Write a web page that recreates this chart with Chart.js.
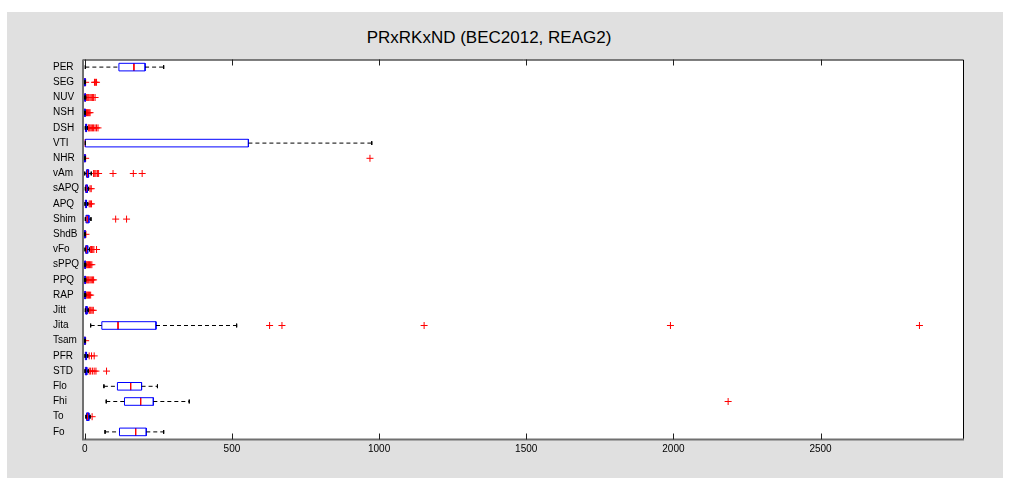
<!DOCTYPE html>
<html lang="en">
<head>
    <meta charset="UTF-8">
    <title>PRxRKxND boxplot</title>
    <script src="https://cdn.jsdelivr.net/npm/chart.js"></script>
    <style>
        body {
            margin: 0;
            background-color: #ffffff;
        }
        .panel {
            position: absolute;
            left: 7px;
            top: 12px;
            width: 996px;
            height: 466px;
            background-color: #e0e0e0;
        }
        .title {
            position: absolute;
            left: 0;
            top: 16px;
            width: 964px;
            text-align: center;
            font-family: 'Liberation Sans', Arial, sans-serif;
            font-size: 17px;
            color: #000000;
        }
        .wrap {
            position: absolute;
            left: 0;
            top: 0;
            width: 964px;
            height: 450px;
        }
    </style>
</head>
<body>
    <div class="panel">
        <div class="title">PRxRKxND (BEC2012, REAG2)</div>
        <div class="wrap"><canvas id="boxChart"></canvas></div>
    </div>

    <script>
        // groups, top to bottom
        const categories = ['PER','SEG','NUV','NSH','DSH','VTI','NHR','vAm','sAPQ','APQ','Shim','ShdB','vFo','sPPQ','PPQ','RAP','Jitt','Jita','Tsam','PFR','STD','Flo','Fhi','To','Fo'];
        const whiskerLow  = [2, 0, 0, 0, 2, 2, 0, 0, 2, 1, 2, 0, 1, 0, 0, 0, 2, 20, 0, 1, 1, 65, 73, 4, 69];
        const quart1      = [116, 0, 0, 0, 3, 2, 0, 6, 3, 2, 4, 0, 3, 0, 0, 0, 3, 58, 0, 2, 2, 111, 135, 6, 118];
        const medians     = [167, 0.5, 1, 0.5, 4, 2, 0.5, 9, 5, 4, 8, 0.5, 5, 1, 1, 1, 5, 113, 0.5, 4, 4, 156, 190, 9, 173];
        const quart3      = [205, 1, 2, 1, 6, 556, 1, 13, 9, 6, 14, 1, 10, 2, 2, 2, 8, 242, 1, 6, 7, 193, 233, 14, 209];
        const whiskerHigh = [268, 2, 3, 2, 9, 975, 2, 22, 13, 10, 21, 2, 16, 3, 3, 3, 12, 516, 2, 10, 12, 247, 355, 18, 268];
        const outliers = [
            [],
            [3, 33, 36, 40],
            [5, 8, 11, 14, 18, 22, 26, 30, 35],
            [3, 6, 9, 12, 15, 18],
            [12, 15, 18, 22, 26, 30, 35, 40, 45],
            [],
            [3, 969],
            [30, 34, 38, 43, 47, 96, 165, 195],
            [18, 22],
            [15, 19, 23],
            [105, 142],
            [4],
            [19, 23, 27, 31, 40],
            [4, 7, 10, 13, 16, 20, 24],
            [5, 8, 11, 14, 18, 22, 26, 30],
            [4, 7, 10, 13, 16, 20],
            [15, 18, 21, 25, 29],
            [628, 670, 1153, 1990, 2836],
            [3],
            [15, 23, 32],
            [15, 20, 26, 32, 38, 74],
            [],
            [2186],
            [25],
            []
        ];
        const xTicks = [0, 500, 1000, 1500, 2000, 2500];

        const half = 0.25;   // half box height (group units)
        const cap = 0.12;    // half whisker cap height

        function seg(points, color, dash) {
            return {
                data: points,
                showLine: true,
                borderColor: color,
                borderWidth: 1,
                borderDash: dash || [],
                pointRadius: 0,
                fill: false
            };
        }

        let datasets = [];
        categories.forEach((c, i) => {
            let y = i + 1;
            let lo = whiskerLow[i], a = quart1[i], m = medians[i], b = quart3[i], hi = whiskerHigh[i];
            datasets.push(seg([{x: lo, y: y}, {x: a, y: y}], '#000000', [4, 3]));
            datasets.push(seg([{x: b, y: y}, {x: hi, y: y}], '#000000', [4, 3]));
            datasets.push(seg([{x: lo, y: y - cap}, {x: lo, y: y + cap}], '#000000'));
            datasets.push(seg([{x: hi, y: y - cap}, {x: hi, y: y + cap}], '#000000'));
            datasets.push(seg([
                {x: a, y: y - half}, {x: b, y: y - half}, {x: b, y: y + half},
                {x: a, y: y + half}, {x: a, y: y - half}
            ], '#0000ff'));
            datasets.push(seg([{x: m, y: y - half}, {x: m, y: y + half}], '#ff0000'));
            datasets.push({
                data: outliers[i].map(v => ({x: v, y: y})),
                showLine: false,
                pointStyle: 'cross',
                pointRadius: 3.5,
                borderColor: '#ff0000',
                borderWidth: 1
            });
        });

        // white plot area, frame and inside ticks like the original figure
        const frame = {
            id: 'frame',
            beforeDraw(chart) {
                const {ctx, chartArea: ca} = chart;
                ctx.save();
                ctx.fillStyle = '#ffffff';
                ctx.fillRect(ca.left, ca.top, ca.right - ca.left, ca.bottom - ca.top);
                ctx.restore();
            },
            afterDraw(chart) {
                const {ctx, chartArea: ca} = chart;
                const xs = chart.scales.x;
                ctx.save();
                ctx.lineWidth = 1;
                ctx.strokeStyle = '#000000';
                ctx.beginPath();
                ctx.moveTo(ca.left, ca.top + 0.5);
                ctx.lineTo(ca.right + 0.5, ca.top + 0.5);
                ctx.lineTo(ca.right + 0.5, ca.bottom);
                ctx.stroke();
                ctx.strokeStyle = '#707070';
                ctx.lineWidth = 2;
                ctx.beginPath();
                ctx.moveTo(ca.left, ca.top);
                ctx.lineTo(ca.left, ca.bottom);
                ctx.lineTo(ca.right + 1, ca.bottom);
                ctx.stroke();
                ctx.lineWidth = 1;
                ctx.strokeStyle = '#202020';
                xTicks.forEach(v => {
                    let px = Math.round(xs.getPixelForValue(v)) + 0.5;
                    ctx.beginPath();
                    ctx.moveTo(px, ca.bottom);
                    ctx.lineTo(px, ca.bottom - 6);
                    ctx.moveTo(px, ca.top);
                    ctx.lineTo(px, ca.top + 6);
                    ctx.stroke();
                });
                ctx.restore();
            }
        };

        new Chart(document.getElementById('boxChart'), {
            type: 'scatter',
            data: { datasets: datasets },
            plugins: [frame],
            options: {
                responsive: true,
                maintainAspectRatio: false,
                animation: false,
                events: [],
                layout: { padding: { left: 46, right: 8, top: 47.5, bottom: 0 } },
                plugins: {
                    legend: { display: false },
                    tooltip: { enabled: false },
                    title: { display: false }
                },
                scales: {
                    x: {
                        type: 'linear',
                        min: -6,
                        max: 2984,
                        border: { display: false },
                        grid: { display: false, drawTicks: false },
                        afterBuildTicks: s => { s.ticks = xTicks.map(v => ({value: v})); },
                        afterFit: s => { s.height = 22.5; },
                        ticks: {
                            color: '#000000',
                            padding: 4,
                            font: { family: 'Liberation Sans', size: 10 },
                            maxRotation: 0,
                            callback: v => String(v)
                        }
                    },
                    y: {
                        type: 'linear',
                        reverse: true,
                        min: 0.5,
                        max: 25.5,
                        border: { display: false },
                        grid: { display: false, drawTicks: false },
                        afterBuildTicks: s => { s.ticks = categories.map((c, i) => ({value: i + 1})); },
                        afterFit: s => { s.width = 30; },
                        ticks: {
                            color: '#000000',
                            crossAlign: 'far',
                            autoSkip: false,
                            font: { family: 'Liberation Sans', size: 10 },
                            callback: v => categories[v - 1]
                        }
                    }
                }
            }
        });
    </script>
</body>
</html>
